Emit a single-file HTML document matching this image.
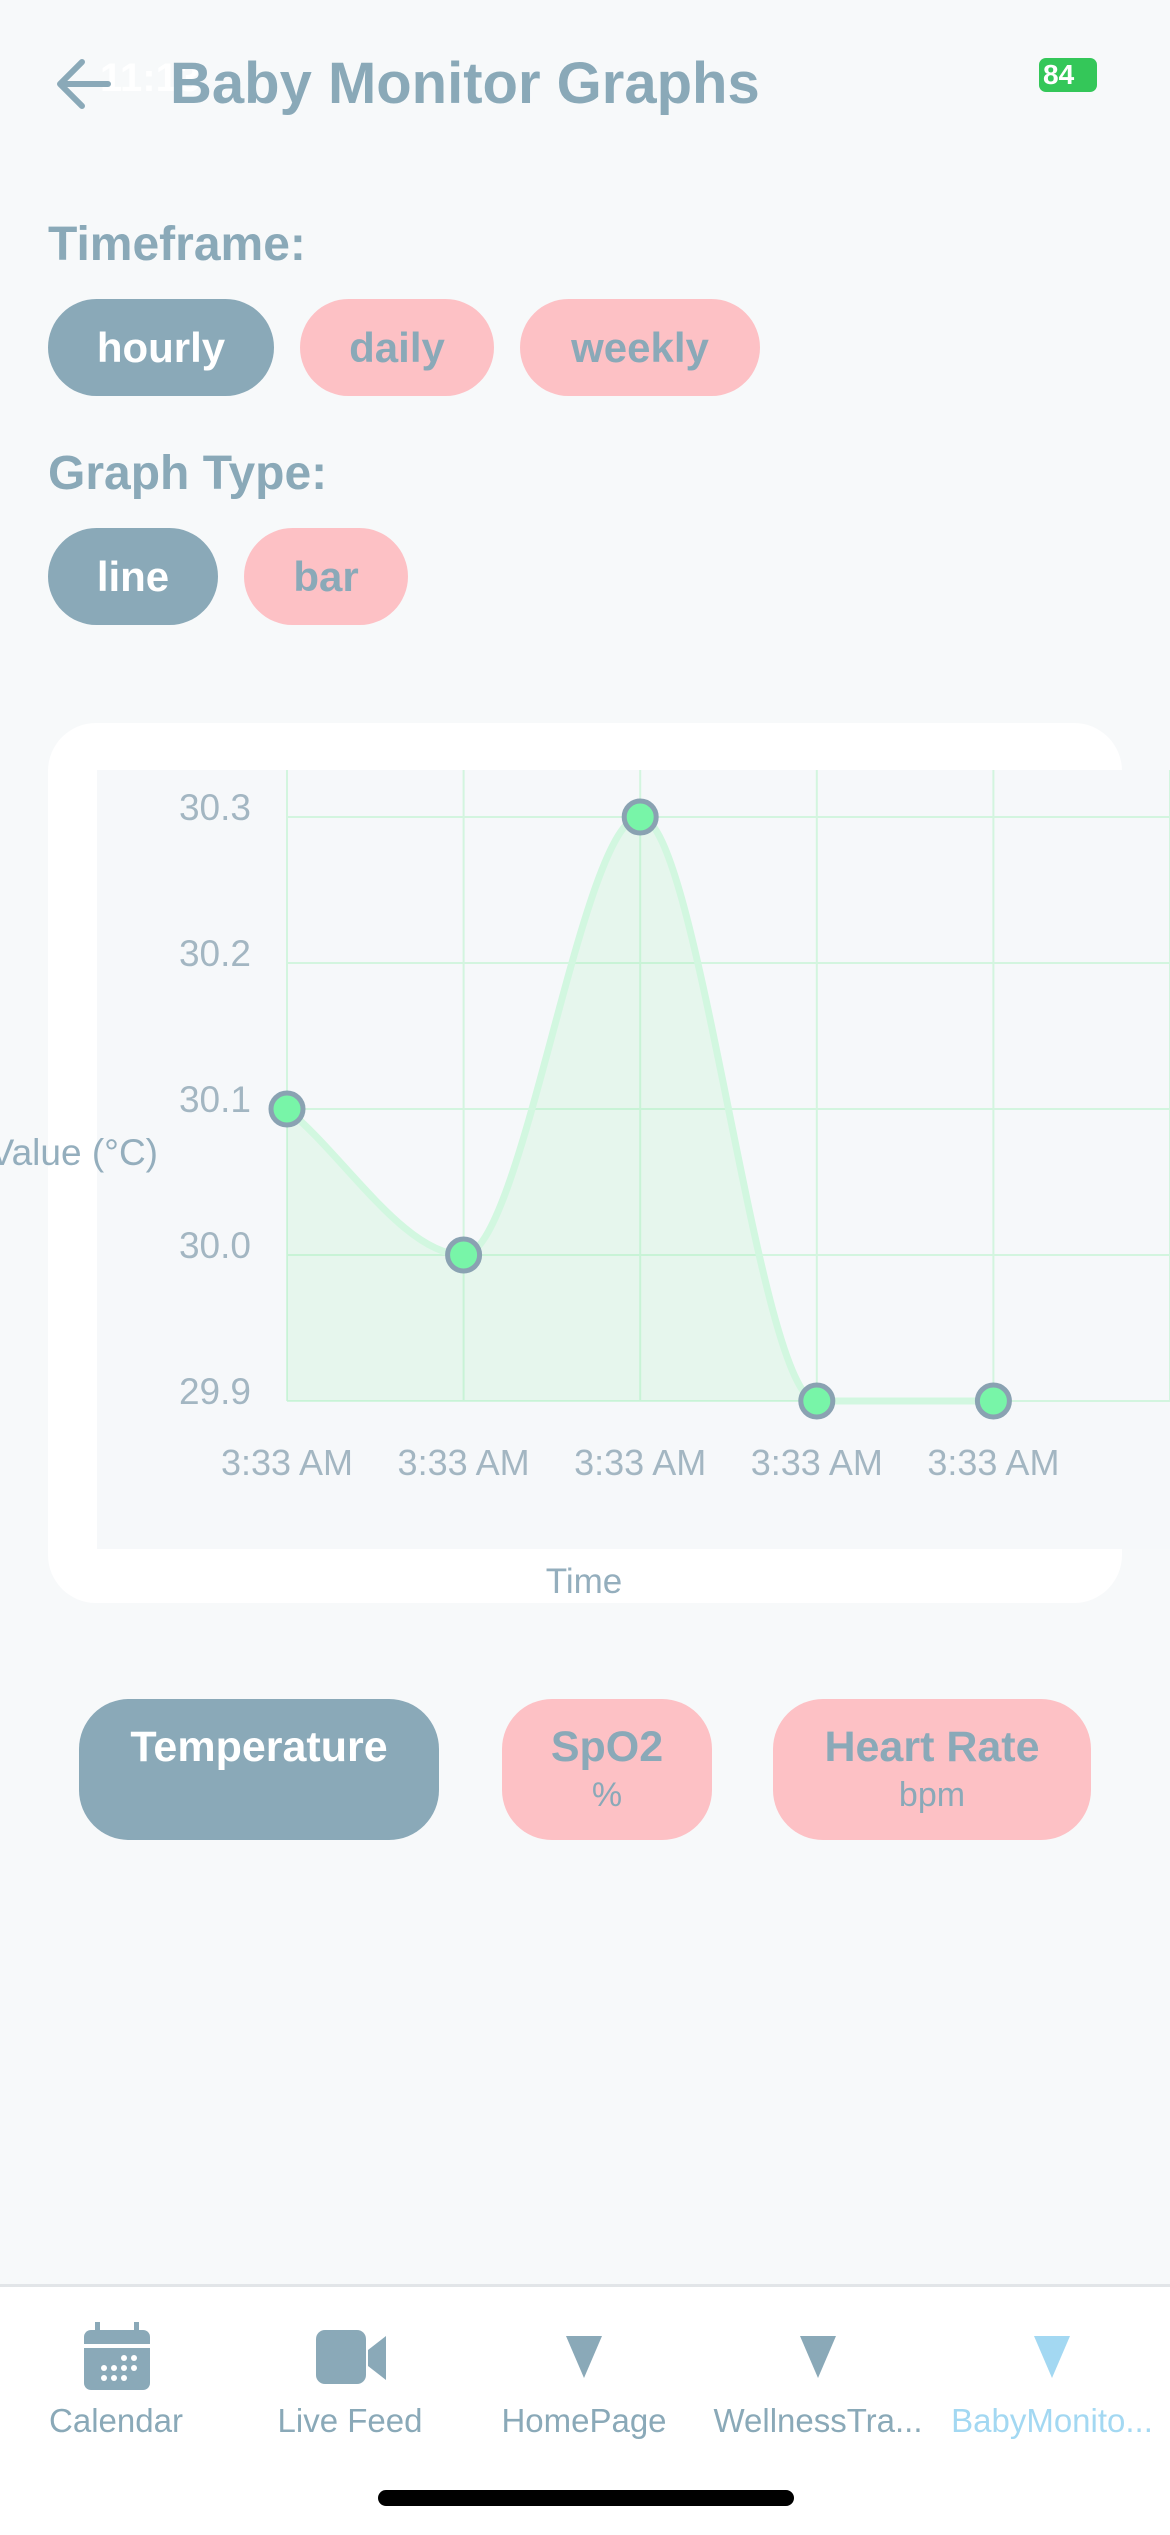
<!DOCTYPE html>
<html><head><meta charset="utf-8">
<style>
html,body{margin:0;padding:0}
body{width:1170px;height:2532px;background:#f7f9fa;position:relative;overflow:hidden;font-family:"Liberation Sans",sans-serif;color:#8aa9b8}
.abs{position:absolute}
.pill{position:absolute;border-radius:50px;display:flex;align-items:center;justify-content:center;font-weight:bold;font-size:42px}
.on{background:#8aa9b8;color:#fff}
.off{background:#fdc1c5;color:#8aa9b8}
.lbl{position:absolute;left:48px;font-weight:bold;font-size:48px}
.tab{position:absolute;width:234px;text-align:center;font-size:33px;top:2402px;white-space:nowrap}
.big{flex-direction:column;justify-content:flex-start;padding-top:24px;box-sizing:border-box;font-size:43px}
.big .sub{font-weight:normal;font-size:34px;margin-top:4px}
</style></head><body>
<div class="abs" style="left:100px;top:56px;font-size:40px;font-weight:bold;color:#fff">11:13</div>
<div class="abs" style="left:1039px;top:58px;width:58px;height:34px;background:#34c759;border-radius:7px;color:#fff;font-weight:bold;font-size:28px;line-height:34px;padding-left:4px;box-sizing:border-box">84</div>
<svg class="abs" style="left:54px;top:58px" width="58" height="52"><path d="M54 26H6M28 4L6 26l22 22" stroke="#8aa9b8" stroke-width="6" fill="none" stroke-linecap="round" stroke-linejoin="round"/></svg>
<div class="abs" style="left:170px;top:50px;font-size:58px;font-weight:bold">Baby Monitor Graphs</div>

<div class="lbl" style="top:217px">Timeframe:</div>
<div class="pill on" style="left:48px;top:299px;width:226px;height:97px">hourly</div>
<div class="pill off" style="left:300px;top:299px;width:194px;height:97px">daily</div>
<div class="pill off" style="left:520px;top:299px;width:240px;height:97px">weekly</div>
<div class="lbl" style="top:446px">Graph Type:</div>
<div class="pill on" style="left:48px;top:528px;width:170px;height:97px">line</div>
<div class="pill off" style="left:244px;top:528px;width:164px;height:97px">bar</div>

<div class="abs" style="left:48px;top:723px;width:1074px;height:880px;background:#fff;border-radius:48px"></div>
<svg class="abs" id="chart" style="left:0;top:0" width="1170" height="1700"></svg>

<div class="pill on big" style="left:79px;top:1699px;width:360px;height:141px">Temperature</div>
<div class="pill off big" style="left:502px;top:1699px;width:210px;height:141px"><span>SpO2</span><span class="sub">%</span></div>
<div class="pill off big" style="left:773px;top:1699px;width:318px;height:141px"><span>Heart Rate</span><span class="sub">bpm</span></div>

<div class="abs" style="left:0;top:2284px;width:1170px;height:248px;background:#fff;border-top:3px solid #e2e5e8"></div>
<svg class="abs" style="left:84px;top:2322px" width="66" height="70"><rect x="0" y="8" width="66" height="60" rx="7" fill="#8aa9b8"/><rect x="0" y="22" width="66" height="4" fill="#fff"/><rect x="11" y="0" width="5" height="12" fill="#8aa9b8"/><rect x="50" y="0" width="5" height="12" fill="#8aa9b8"/><g fill="#fff"><circle cx="40" cy="36" r="3"/><circle cx="50" cy="36" r="3"/><circle cx="20" cy="46" r="3"/><circle cx="30" cy="46" r="3"/><circle cx="40" cy="46" r="3"/><circle cx="50" cy="46" r="3"/><circle cx="20" cy="56" r="3"/><circle cx="30" cy="56" r="3"/><circle cx="40" cy="56" r="3"/></g></svg>
<svg class="abs" style="left:316px;top:2330px" width="72" height="54"><rect x="0" y="0" width="50" height="54" rx="9" fill="#8aa9b8"/><path d="M52 20L70 6V50L52 36Z" fill="#8aa9b8"/></svg>
<svg class="abs" style="left:566px;top:2336px" width="36" height="42"><path d="M0 0H36L18 42Z" fill="#8aa9b8"/></svg>
<svg class="abs" style="left:800px;top:2336px" width="36" height="42"><path d="M0 0H36L18 42Z" fill="#8aa9b8"/></svg>
<svg class="abs" style="left:1034px;top:2336px" width="36" height="42"><path d="M0 0H36L18 42Z" fill="#a3d8f2"/></svg>
<div class="tab" style="left:-1px">Calendar</div>
<div class="tab" style="left:233px">Live Feed</div>
<div class="tab" style="left:467px">HomePage</div>
<div class="tab" style="left:701px">WellnessTra...</div>
<div class="tab" style="left:935px;color:#a3d8f2">BabyMonito...</div>
<div class="abs" style="left:378px;top:2490px;width:416px;height:16px;background:#000;border-radius:8px"></div>

<script>
const categories = ["3:33 AM","3:33 AM","3:33 AM","3:33 AM","3:33 AM"];
const values = [30.1, 30.0, 30.3, 29.9, 29.9];
const yTicks = [29.9, 30.0, 30.1, 30.2, 30.3];

const svg = document.getElementById('chart');
const NS = 'http://www.w3.org/2000/svg';
const X0 = 287, XSTEP = 176.6, Y0 = 1401, YTOP = 817;
const yMin = 29.9, yMax = 30.3;
const xs = i => X0 + i * XSTEP;
const ys = v => Y0 - (v - yMin) / (yMax - yMin) * (Y0 - YTOP);
function mk(tag, attrs){const e=document.createElementNS(NS,tag);for(const k in attrs)e.setAttribute(k,attrs[k]);svg.appendChild(e);return e;}

const bg = mk('rect',{x:97,y:770,width:1073,height:779,fill:'#f6f8fa'});


for(let i=0;i<=categories.length;i++){
  const g = mk('line',{x1:xs(i),x2:xs(i),y1:770,y2:Y0,stroke:'#d3f5df','stroke-width':2});
  
  
}
yTicks.forEach(t=>{
  const g = mk('line',{x1:X0,x2:1170,y1:ys(t),y2:ys(t),stroke:'#d3f5df','stroke-width':2});
  
  
  const l = mk('text',{x:251,y:ys(t)+3,'text-anchor':'end','font-size':37,fill:'#a3b6c2','font-family':'Liberation Sans, sans-serif'});
  l.textContent = t.toFixed(1);
  
  
});
categories.forEach((c,i)=>{
  const l = mk('text',{x:xs(i),y:1475,'text-anchor':'middle','font-size':36,fill:'#a3b6c2','font-family':'Liberation Sans, sans-serif'});
  l.textContent = c;
  
  
});
const P = values.map((v,i)=>[xs(i),ys(v)]);
const n = P.length, d=[], m=[];
for(let i=0;i<n-1;i++) d.push((P[i+1][1]-P[i][1])/(P[i+1][0]-P[i][0]));
for(let i=0;i<n;i++){
  if(i===0) m.push(d[0]); else if(i===n-1) m.push(d[n-2]);
  else m.push(d[i-1]*d[i]<=0?0:(d[i-1]+d[i])/2);
}
for(let i=0;i<n-1;i++){
  if(d[i]===0){m[i]=0;m[i+1]=0;continue;}
  const a=m[i]/d[i], b=m[i+1]/d[i], s=a*a+b*b;
  if(s>9){const t=3/Math.sqrt(s);m[i]=t*a*d[i];m[i+1]=t*b*d[i];}
}
let path = `M${P[0][0]},${P[0][1]}`;
for(let i=0;i<n-1;i++){
  const h=(P[i+1][0]-P[i][0])/3;
  path += ` C${P[i][0]+h},${P[i][1]+m[i]*h} ${P[i+1][0]-h},${P[i+1][1]-m[i+1]*h} ${P[i+1][0]},${P[i+1][1]}`;
}
const area = mk('path',{d:path+` L${P[n-1][0]},${Y0} L${P[0][0]},${Y0} Z`,fill:'rgba(140,235,170,0.15)'});


const line = mk('path',{d:path,fill:'none',stroke:'#d2f7e0','stroke-width':7});


P.forEach(p=>{
  const c = mk('circle',{cx:p[0],cy:p[1],r:16,fill:'#78f5a8',stroke:'#8aa2b2','stroke-width':5});
  
  
});
const yt = mk('text',{x:158,y:1165,'text-anchor':'end','font-size':37,fill:'#94aebd','font-family':'Liberation Sans, sans-serif'});
yt.textContent = 'Value (°C)';


const xt = mk('text',{x:584,y:1593,'text-anchor':'middle','font-size':35,fill:'#94aebd','font-family':'Liberation Sans, sans-serif'});
xt.textContent = 'Time';


</script>
</body></html>
